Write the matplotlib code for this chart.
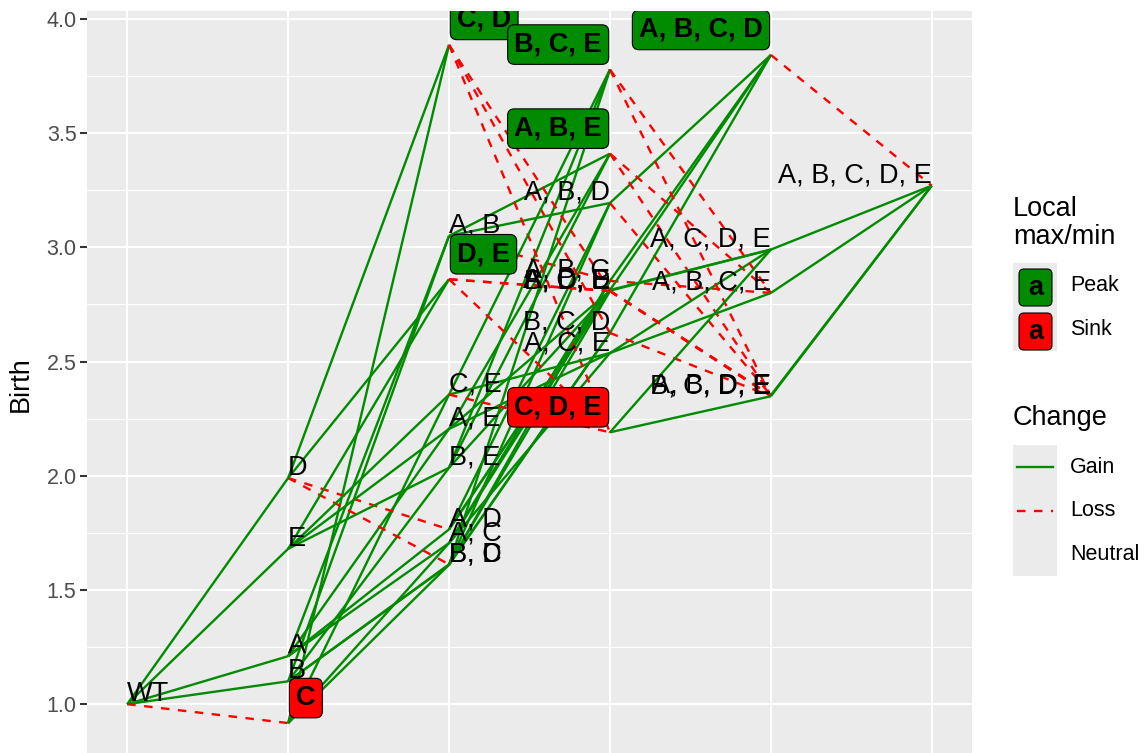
import numpy as np
import matplotlib.pyplot as plt
from matplotlib.patches import Rectangle, FancyBboxPatch
from matplotlib.lines import Line2D

plt.rcParams['font.family'] = ['Liberation Sans', 'DejaVu Sans']

# genotypes and their birth rate
genotypes = ["WT",
             "A", "B", "C", "D", "E",
             "A, B", "A, C", "A, D", "A, E", "B, C", "B, D", "B, E", "C, D", "C, E", "D, E",
             "A, B, C", "A, B, D", "A, B, E", "A, C, D", "A, C, E", "A, D, E", "B, C, D",
             "B, C, E", "B, D, E", "C, D, E",
             "A, B, C, D", "A, B, C, E", "A, B, D, E", "A, C, D, E", "B, C, D, E",
             "A, B, C, D, E"]
birth = [1.00,
         1.21, 1.10, 0.917, 1.99, 1.68,
         3.05, 1.705, 1.765, 2.205, 1.61, 1.612, 2.035, 3.886, 2.355, 2.86,
         2.853, 3.194, 3.41, 2.813, 2.537, 2.81, 2.625,
         3.778, 2.808, 2.19,
         3.842, 2.80, 2.352, 2.99, 2.348,
         3.27]
peaks = ["C, D", "D, E", "A, B, E", "B, C, E", "A, B, C, D"]
sinks = ["C", "C, D, E"]

GREEN = "#008B00"
RED = "#FF0000"


def muts(g):
    return set() if g == "WT" else set(g.split(", "))


nmut = [len(muts(g)) for g in genotypes]

fig = plt.figure(figsize=(11.46, 7.53), dpi=100)
ax = fig.add_axes([87 / 1146, -4 / 753, 885 / 1146, 746 / 753])
ax.set_facecolor("#EBEBEB")
for s in ax.spines.values():
    s.set_visible(False)

# edges between genotypes one mutation apart
for i, gi in enumerate(genotypes):
    for j, gj in enumerate(genotypes):
        if nmut[j] == nmut[i] + 1 and muts(gi) < muts(gj):
            if birth[j] > birth[i]:
                ax.plot([nmut[i], nmut[j]], [birth[i], birth[j]], color=GREEN, lw=1.7,
                        solid_capstyle="butt", zorder=2)
            elif birth[j] < birth[i]:
                ax.plot([nmut[i], nmut[j]], [birth[i], birth[j]], color=RED, lw=1.7,
                        linestyle=(0, (3.6, 3.6)), zorder=2)

# labels
for g, x, y in zip(genotypes, nmut, birth):
    left = x <= 2
    ha = "left" if left else "right"
    if g in peaks or g in sinks:
        fc = GREEN if g in peaks else RED
        pad = 7
        t = ax.annotate(g, xy=(x, y), xytext=(pad + 1 if left else -pad - 1, 11 + pad),
                        textcoords="offset pixels", ha=ha, va="baseline",
                        fontsize=19.5, fontweight="bold", color="black", zorder=4,
                        bbox=dict(boxstyle="round,pad=0.25,rounding_size=0.25", fc=fc,
                                  ec="black", lw=0.8))
    else:
        t = ax.annotate(g, xy=(x, y), xytext=(0, 3), textcoords="offset pixels",
                        ha=ha, va="baseline", fontsize=19.5, color="black", zorder=3)
    t.set_clip_on(True)
    t.set_clip_path(ax.patch)

ymin, ymax = min(birth), max(birth)
yr = ymax - ymin
ax.set_xlim(-0.25, 5.25)
ax.set_ylim(ymin - 0.05 * yr, ymax + 0.05 * yr)

ax.set_yticks(np.arange(1.0, 4.01, 0.5))
ax.set_yticks(np.arange(1.25, 4.0, 0.5), minor=True)
ax.set_yticklabels([f"{v:.1f}" for v in np.arange(1.0, 4.01, 0.5)])
ax.set_xticks(range(6))
ax.set_xticklabels([])
ax.grid(which="major", color="white", lw=1.5)
ax.grid(which="minor", axis="y", color="white", lw=0.75)
ax.set_axisbelow(True)
ax.tick_params(axis="y", which="major", length=5, width=1.5, color="#333333",
               labelsize=15.5, labelcolor="#4D4D4D", pad=2.5)
ax.tick_params(axis="y", which="minor", length=0)
ax.tick_params(axis="x", length=0)
ax.set_ylabel("Birth", fontsize=19.5)
ax.yaxis.set_label_coords(-0.06, 0.5)

# legend drawn in pixel coordinates
lax = fig.add_axes([0, 0, 1, 1])
lax.set_xlim(0, 1146)
lax.set_ylim(753, 0)
lax.axis("off")

lax.text(1013, 196, "Local\nmax/min", fontsize=19.5, va="top", ha="left", linespacing=1.1)
for k, (name, fc) in enumerate([("Peak", GREEN), ("Sink", RED)]):
    y0 = 263 + 44 * k
    lax.add_patch(Rectangle((1013, y0), 44, 44, fc="#EBEBEB", ec="none"))
    lax.add_patch(FancyBboxPatch((1019, y0 + 6), 33, 37, boxstyle="round,pad=0,rounding_size=5",
                                 fc=fc, ec="black", lw=0.8))
    lax.text(1035.5, y0 + 25, "a", fontsize=19.5, fontweight="bold", ha="center", va="center")
    lax.text(1070, y0 + 22, name, fontsize=15.5, ha="left", va="center")

lax.text(1013, 405, "Change", fontsize=19.5, va="top", ha="left")
for k, (name, col, ls) in enumerate([("Gain", GREEN, "-"), ("Loss", RED, (0, (3.6, 3.6))),
                                     ("Neutral", None, None)]):
    y0 = 445 + 43.5 * k
    lax.add_patch(Rectangle((1013, y0), 44, 43.5, fc="#EBEBEB", ec="none"))
    if col is not None:
        lax.add_line(Line2D([1017, 1053], [y0 + 22, y0 + 22], color=col, lw=1.7, linestyle=ls))
    lax.text(1070, y0 + 22, name, fontsize=15.5, ha="left", va="center")

fig.savefig("out.png", dpi=100)
